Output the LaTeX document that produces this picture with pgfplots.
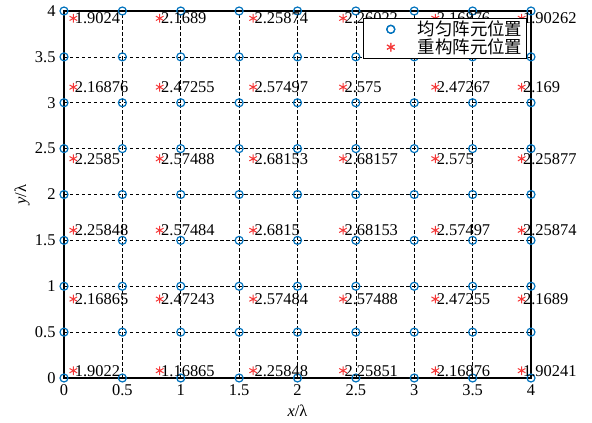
\documentclass[border=0pt]{standalone}
\usepackage{pgfplots}
\pgfplotsset{compat=1.18}
\usepackage{pgfplotstable}
\usepackage{fontspec}
\setmainfont{Liberation Serif}
\newfontfamily\cjk{Noto Sans CJK SC}
\definecolor{mblue}{rgb}{0,0.447,0.741}
\definecolor{mred}{rgb}{0.96,0.22,0.22}

% legend image: one centred mark in a wide cell
\pgfplotsset{markcell/.style={legend image code/.code={%
  \path[draw=none, fill=none] (0bp,0bp) -- (50bp,0bp);
  \draw[##1, draw=none] plot coordinates {(25bp,0bp)};
  \draw[##1] plot[only marks] coordinates {(25bp,0bp)};}}}

% uniform 9x9 grid of element positions (units of wavelength)
\pgfplotstableread{
x y
0 0
0.5 0
1 0
1.5 0
2 0
2.5 0
3 0
3.5 0
4 0
0 0.5
0.5 0.5
1 0.5
1.5 0.5
2 0.5
2.5 0.5
3 0.5
3.5 0.5
4 0.5
0 1
0.5 1
1 1
1.5 1
2 1
2.5 1
3 1
3.5 1
4 1
0 1.5
0.5 1.5
1 1.5
1.5 1.5
2 1.5
2.5 1.5
3 1.5
3.5 1.5
4 1.5
0 2
0.5 2
1 2
1.5 2
2 2
2.5 2
3 2
3.5 2
4 2
0 2.5
0.5 2.5
1 2.5
1.5 2.5
2 2.5
2.5 2.5
3 2.5
3.5 2.5
4 2.5
0 3
0.5 3
1 3
1.5 3
2 3
2.5 3
3 3
3.5 3
4 3
0 3.5
0.5 3.5
1 3.5
1.5 3.5
2 3.5
2.5 3.5
3 3.5
3.5 3.5
4 3.5
0 4
0.5 4
1 4
1.5 4
2 4
2.5 4
3 4
3.5 4
4 4
}\uniform

% reconstructed 6x6 element positions with their values
\pgfplotstableread{
x y label
0.08 0.08 1.9022
0.82 0.08 1.16865
1.62 0.08 2.25848
2.39 0.08 2.25851
3.18 0.08 2.16876
3.92 0.08 1.90241
0.08 0.86 2.16865
0.82 0.86 2.47243
1.62 0.86 2.57484
2.39 0.86 2.57488
3.18 0.86 2.47255
3.92 0.86 2.1689
0.08 1.61 2.25848
0.82 1.61 2.57484
1.62 1.61 2.6815
2.39 1.61 2.68153
3.18 1.61 2.57497
3.92 1.61 2.25874
0.08 2.39 2.2585
0.82 2.39 2.57488
1.62 2.39 2.68153
2.39 2.39 2.68157
3.18 2.39 2.575
3.92 2.39 2.25877
0.08 3.17 2.16876
0.82 3.17 2.47255
1.62 3.17 2.57497
2.39 3.17 2.575
3.18 3.17 2.47267
3.92 3.17 2.169
0.08 3.92 1.9024
0.82 3.92 2.1689
1.62 3.92 2.25874
2.39 3.92 2.26022
3.18 3.92 2.16876
3.92 3.92 1.90262
}\recon

\begin{document}
\begin{tikzpicture}
\path[use as bounding box] (-64bp,-45bp) rectangle (528bp,378bp);
\begin{axis}[
  scale only axis, width=467bp, height=367bp,
  at={(0,0)}, anchor=south west,
  xmin=0, xmax=4, ymin=0, ymax=4,
  xtick={0,0.5,1,1.5,2,2.5,3,3.5,4},
  ytick={0,0.5,1,1.5,2,2.5,3,3.5,4},
  grid=major,
  grid style={black, line width=0.7pt, dash pattern=on 3.5bp off 2.5bp},
  axis line style={black, line width=1.1pt},
  major tick length=0pt,
  clip=false,
  /pgf/number format/assume math mode=true,
  ticklabel style={font=\fontsize{16.5}{18}\selectfont},
  xticklabel style={yshift=-3bp},
  yticklabel style={xshift=-5bp},
  xlabel={\textit{x}/λ},
  ylabel={\textit{y}/λ},
  label style={font=\fontsize{16.5}{18}\selectfont},
  xlabel style={at={([yshift=-33bp]axis description cs:0.5,0)}, anchor=center},
  ylabel style={at={([xshift=-42bp]axis description cs:0,0.5)}, anchor=center},
  legend style={at={(rel axis cs:0.991,0.981)}, anchor=north east,
    draw=black, line width=0.8pt, fill=white,
    font=\cjk\fontsize{17.5}{19}\selectfont,
    inner sep=2bp, row sep=0pt, column sep=0pt,
    nodes={inner xsep=2bp, inner ysep=0.8bp},
    cells={anchor=west}},
  legend cell align=left,
]
\addplot[only marks, mark=o, mark size=4bp, color=mblue,
  mark options={line width=1.2pt}, markcell]
  table[x=x, y=y] {\uniform};
\addlegendentry{均匀阵元位置}
\addplot[only marks, mark=asterisk, mark size=4.4bp, color=mred,
  mark options={line width=1pt}, markcell,
  nodes near coords, point meta=explicit symbolic,
  nodes near coords style={anchor=west, inner sep=0pt, xshift=1bp,
    text=black, font=\fontsize{16.5}{18}\selectfont}]
  table[x=x, y=y, meta=label] {\recon};
\addlegendentry{重构阵元位置}
\end{axis}
\end{tikzpicture}
\end{document}
